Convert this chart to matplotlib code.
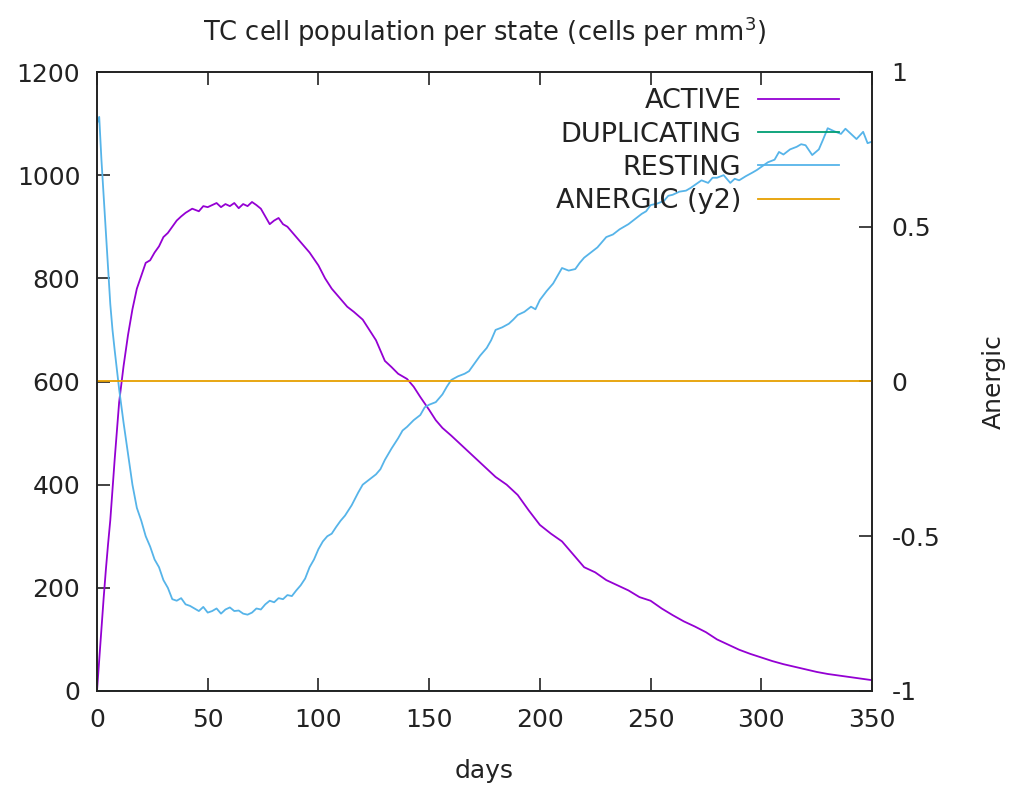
import matplotlib
matplotlib.use("Agg")
import matplotlib.pyplot as plt

plt.rcParams['font.family'] = ['DejaVu Sans']
plt.rcParams['font.size'] = 18

# values
active_days = [0, 1, 2, 3, 4, 5, 6, 8, 10, 12, 14, 16, 18, 20, 22, 24, 26, 28, 30, 32, 34, 36, 38, 40,
               43, 46, 48, 50, 52, 54, 56, 58, 60, 62, 64, 66, 68, 70, 72, 74, 76, 78, 80, 82, 84, 86,
               88, 90, 93, 96, 100, 103, 106, 110, 113, 116, 120, 123, 126, 130, 133, 136, 140, 143,
               146, 150, 153, 156, 160, 165, 170, 175, 180, 185, 190, 195, 200, 205, 210, 215, 220,
               225, 230, 235, 240, 245, 250, 255, 260, 265, 270, 275, 280, 285, 290, 295, 300, 305,
               310, 315, 320, 325, 330, 335, 340, 345, 350]
active = [0, 60, 120, 180, 235, 285, 331, 450, 560, 630, 690, 740, 780, 805, 830, 835, 850, 862, 880,
          888, 900, 912, 920, 927, 935, 930, 940, 938, 942, 946, 938, 944, 940, 946, 936, 944, 940,
          948, 942, 935, 920, 905, 912, 917, 905, 900, 890, 880, 865, 850, 825, 800, 780, 760, 745,
          735, 720, 700, 680, 640, 628, 615, 605, 590, 570, 545, 525, 510, 495, 475, 455, 435, 415,
          400, 380, 350, 322, 305, 290, 265, 240, 230, 215, 205, 195, 182, 175, 160, 147, 135, 125,
          114, 100, 90, 80, 72, 65, 58, 52, 47, 42, 37, 33, 30, 27, 24, 21]

resting_days = [0, 1, 2, 3, 4, 5, 6, 7, 8, 10, 12, 14, 16, 18, 20, 22, 24, 26, 28, 30, 32, 34, 36, 38,
                40, 42, 44, 46, 48, 50, 52, 54, 56, 58, 60, 62, 64, 66, 68, 70, 72, 74, 76, 78, 80,
                82, 84, 86, 88, 90, 92, 94, 96, 98, 100, 102, 104, 106, 108, 110, 112, 115, 118, 120,
                123, 126, 128, 130, 133, 136, 138, 140, 143, 146, 148, 150, 153, 156, 158, 160, 163,
                166, 168, 170, 173, 176, 178, 180, 183, 186, 188, 190, 193, 196, 198, 200, 203, 206,
                208, 210, 213, 216, 218, 220, 223, 226, 228, 230, 233, 236, 238, 240, 243, 246, 248,
                250, 253, 256, 258, 260, 263, 266, 268, 270, 273, 276, 278, 280, 283, 286, 288, 290,
                293, 296, 298, 300, 303, 306, 308, 310, 313, 316, 318, 320, 323, 326, 328, 330, 333,
                336, 338, 340, 343, 346, 348, 350]
resting = [1100, 1113, 1030, 960, 890, 820, 750, 700, 660, 585, 520, 460, 400, 355, 330, 300, 280,
           255, 240, 215, 200, 178, 175, 180, 168, 165, 160, 155, 163, 152, 155, 160, 150, 158, 162,
           155, 156, 150, 148, 152, 160, 158, 168, 175, 172, 180, 178, 186, 184, 195, 205, 218, 240,
           255, 275, 290, 300, 305, 318, 330, 340, 360, 385, 400, 410, 420, 430, 448, 470, 490, 505,
           512, 525, 535, 550, 555, 560, 575, 590, 603, 610, 615, 620, 632, 650, 665, 680, 700, 705,
           712, 720, 729, 735, 745, 740, 758, 775, 790, 805, 820, 815, 818, 830, 840, 850, 860, 870,
           880, 885, 895, 900, 905, 915, 925, 930, 942, 945, 950, 960, 962, 968, 970, 975, 981, 990,
           985, 995, 995, 1000, 985, 993, 990, 998, 1005, 1010, 1016, 1025, 1030, 1045, 1040, 1050,
           1055, 1060, 1058, 1039, 1050, 1070, 1091, 1085, 1080, 1090, 1082, 1070, 1084, 1062, 1065]

duplicating_days = [0, 350]
duplicating = [0, 0]
anergic_days = [0, 350]
anergic = [0, 0]

fig = plt.figure(figsize=(10.1, 7.92), dpi=100)
ax = fig.add_axes([97 / 1010, 1 - 691 / 792, 775 / 1010, 619 / 792])
ax2 = ax.twinx()

ax.plot(active_days, active, color='#9400d3', lw=1.3, label='ACTIVE')
ax.plot(duplicating_days, duplicating, color='#009e73', lw=1.3, label='DUPLICATING')
ax.plot(resting_days, resting, color='#56b4e9', lw=1.3, label='RESTING')
ax2.plot(anergic_days, anergic, color='#e69f00', lw=1.3, label='ANERGIC (y2)')

ax.set_xlim(0, 350)
ax.set_ylim(0, 1200)
ax2.set_ylim(-1, 1)
ax.set_xticks(range(0, 351, 50))
ax.set_yticks(range(0, 1201, 200))
ax2.set_yticks([-1, -0.5, 0, 0.5, 1])
ax2.set_yticklabels(['-1', '-0.5', '0', '0.5', '1'])

ax.tick_params(direction='in', length=9.5, width=1.2, top=True, right=False, pad=12, colors='#222222')
ax2.tick_params(direction='in', length=9.5, width=1.2, pad=14, colors='#222222')
for a in (ax, ax2):
    for s in a.spines.values():
        s.set_linewidth(1.2)
        s.set_color('#222222')

ax.set_xlabel('days', labelpad=20, color='#222222')
ax2.set_ylabel('Anergic', labelpad=30, color='#222222')
ax.set_title('TC cell population per state (cells per mm$^3$)', pad=22, fontsize=18.5,
             color='#222222')

h1, l1 = ax.get_legend_handles_labels()
h2, l2 = ax2.get_legend_handles_labels()
leg = ax2.legend(h1 + h2, l1 + l2, loc='upper right', frameon=False, markerfirst=False,
                 fontsize=19.5, handlelength=3.0, handletextpad=0.63, labelspacing=0.27,
                 borderaxespad=0.2, bbox_to_anchor=(0.979, 1.0))
for t in leg.get_texts():
    t.set_color('#222222')

fig.savefig('out.png', dpi=100)
